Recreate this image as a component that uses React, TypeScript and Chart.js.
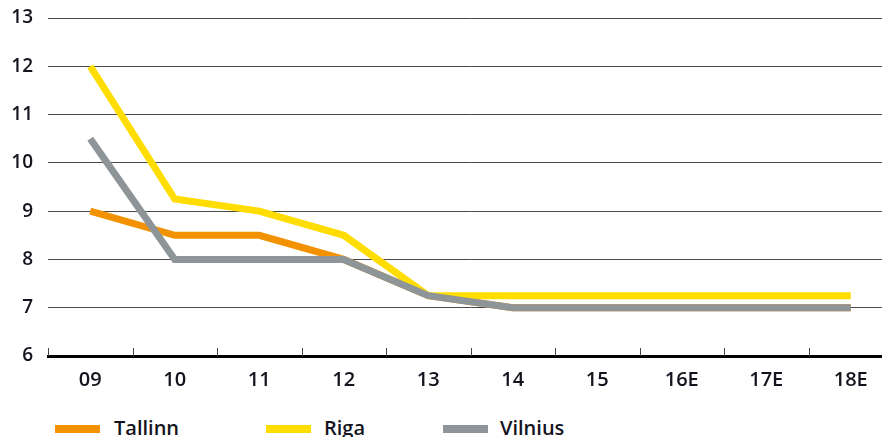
import React, { useEffect, useRef } from "react";
import { Chart, registerables } from "chart.js";

Chart.register(...registerables);

const categories = ["09", "10", "11", "12", "13", "14", "15", "16E", "17E", "18E"];
const tallinn = [9, 8.5, 8.5, 8, 7.25, 7, 7, 7, 7, 7];
const riga = [12, 9.25, 9, 8.5, 7.25, 7.25, 7.25, 7.25, 7.25, 7.25];
const vilnius = [10.5, 8, 8, 8, 7.25, 7, 7, 7, 7, 7];
const yMin = 6;
const yMax = 13;

const seriesNames = ["Tallinn", "Riga", "Vilnius"];
const seriesColors = ["#F39200", "#FFDD00", "#8E9599"];

const FONT = "'Open Sans', sans-serif";

const tickPlugin = {
  id: "catTicks",
  afterDraw(chart: any) {
    const { ctx, chartArea } = chart;
    const n = categories.length;
    const w = (chartArea.right - chartArea.left) / n;
    ctx.save();
    ctx.strokeStyle = "#444";
    ctx.lineWidth = 1;
    for (let i = 0; i <= n; i++) {
      const x = Math.round(chartArea.left + i * w) + 0.5;
      ctx.beginPath();
      ctx.moveTo(x, chartArea.bottom - 8);
      ctx.lineTo(x, chartArea.bottom);
      ctx.stroke();
    }
    ctx.restore();
  },
};

export default function App() {
  const ref = useRef<HTMLCanvasElement | null>(null);

  useEffect(() => {
    document.documentElement.style.overflow = "hidden";
    document.body.style.overflow = "hidden";
    const canvas = ref.current;
    if (!canvas) return;
    const datasets = [tallinn, riga, vilnius].map((d, i) => ({
      label: seriesNames[i],
      data: d,
      borderColor: seriesColors[i],
      backgroundColor: seriesColors[i],
      borderWidth: 7,
      pointRadius: 0,
      tension: 0,
      fill: false,
      borderCapStyle: "butt" as const,
      borderJoinStyle: "miter" as const,
      order: 2 - i,
    }));
    const chart = new Chart(canvas, {
      type: "line",
      data: { labels: categories, datasets },
      plugins: [tickPlugin],
      options: {
        responsive: false,
        animation: false,
        layout: { padding: { top: 18, right: 7, left: 0, bottom: 0 } },
        plugins: { legend: { display: false }, tooltip: { enabled: false } },
        scales: {
          x: {
            offset: true,
            grid: { display: false, drawTicks: false },
            border: { display: true, color: "#000", width: 3 },
            ticks: {
              padding: 12,
              color: "#14141e",
              font: { family: FONT, size: 20, weight: 600 },
              maxRotation: 0,
            },
            afterFit(scale: any) {
              scale.height = 44;
              scale.paddingLeft = 0;
              scale.paddingRight = 0;
            },
          },
          y: {
            min: yMin,
            max: yMax,
            grid: { color: "#4a4a4a", lineWidth: 1, drawTicks: false },
            border: { display: false },
            ticks: {
              stepSize: 1,
              padding: 15,
              color: "#14141e",
              font: { family: FONT, size: 19, weight: 600 },
            },
            afterFit(scale: any) {
              scale.width = 48;
              scale.paddingTop = 0;
              scale.paddingBottom = 0;
            },
          },
        },
      },
    });
    return () => chart.destroy();
  }, []);

  const legendItems = [
    { sw: 55, tx: 114 },
    { sw: 266, tx: 324 },
    { sw: 443, tx: 500 },
  ];

  return (
    <div style={{ position: "absolute", left: 0, top: 0, width: 900, height: 437, overflow: "hidden" }}>
      <canvas ref={ref} width={900} height={400} style={{ display: "block", width: 900, height: 400 }} />
      {legendItems.map((it, i) => (
        <React.Fragment key={i}>
          <div
            style={{
              position: "absolute",
              left: it.sw,
              top: 425,
              width: 45,
              height: 8,
              background: seriesColors[i],
            }}
          />
          <div
            style={{
              position: "absolute",
              left: it.tx,
              top: 416,
              fontFamily: FONT,
              fontSize: 20,
              fontWeight: 600,
              lineHeight: "24px",
              color: "#14141e",
              whiteSpace: "nowrap",
            }}
          >
            {seriesNames[i]}
          </div>
        </React.Fragment>
      ))}
    </div>
  );
}
